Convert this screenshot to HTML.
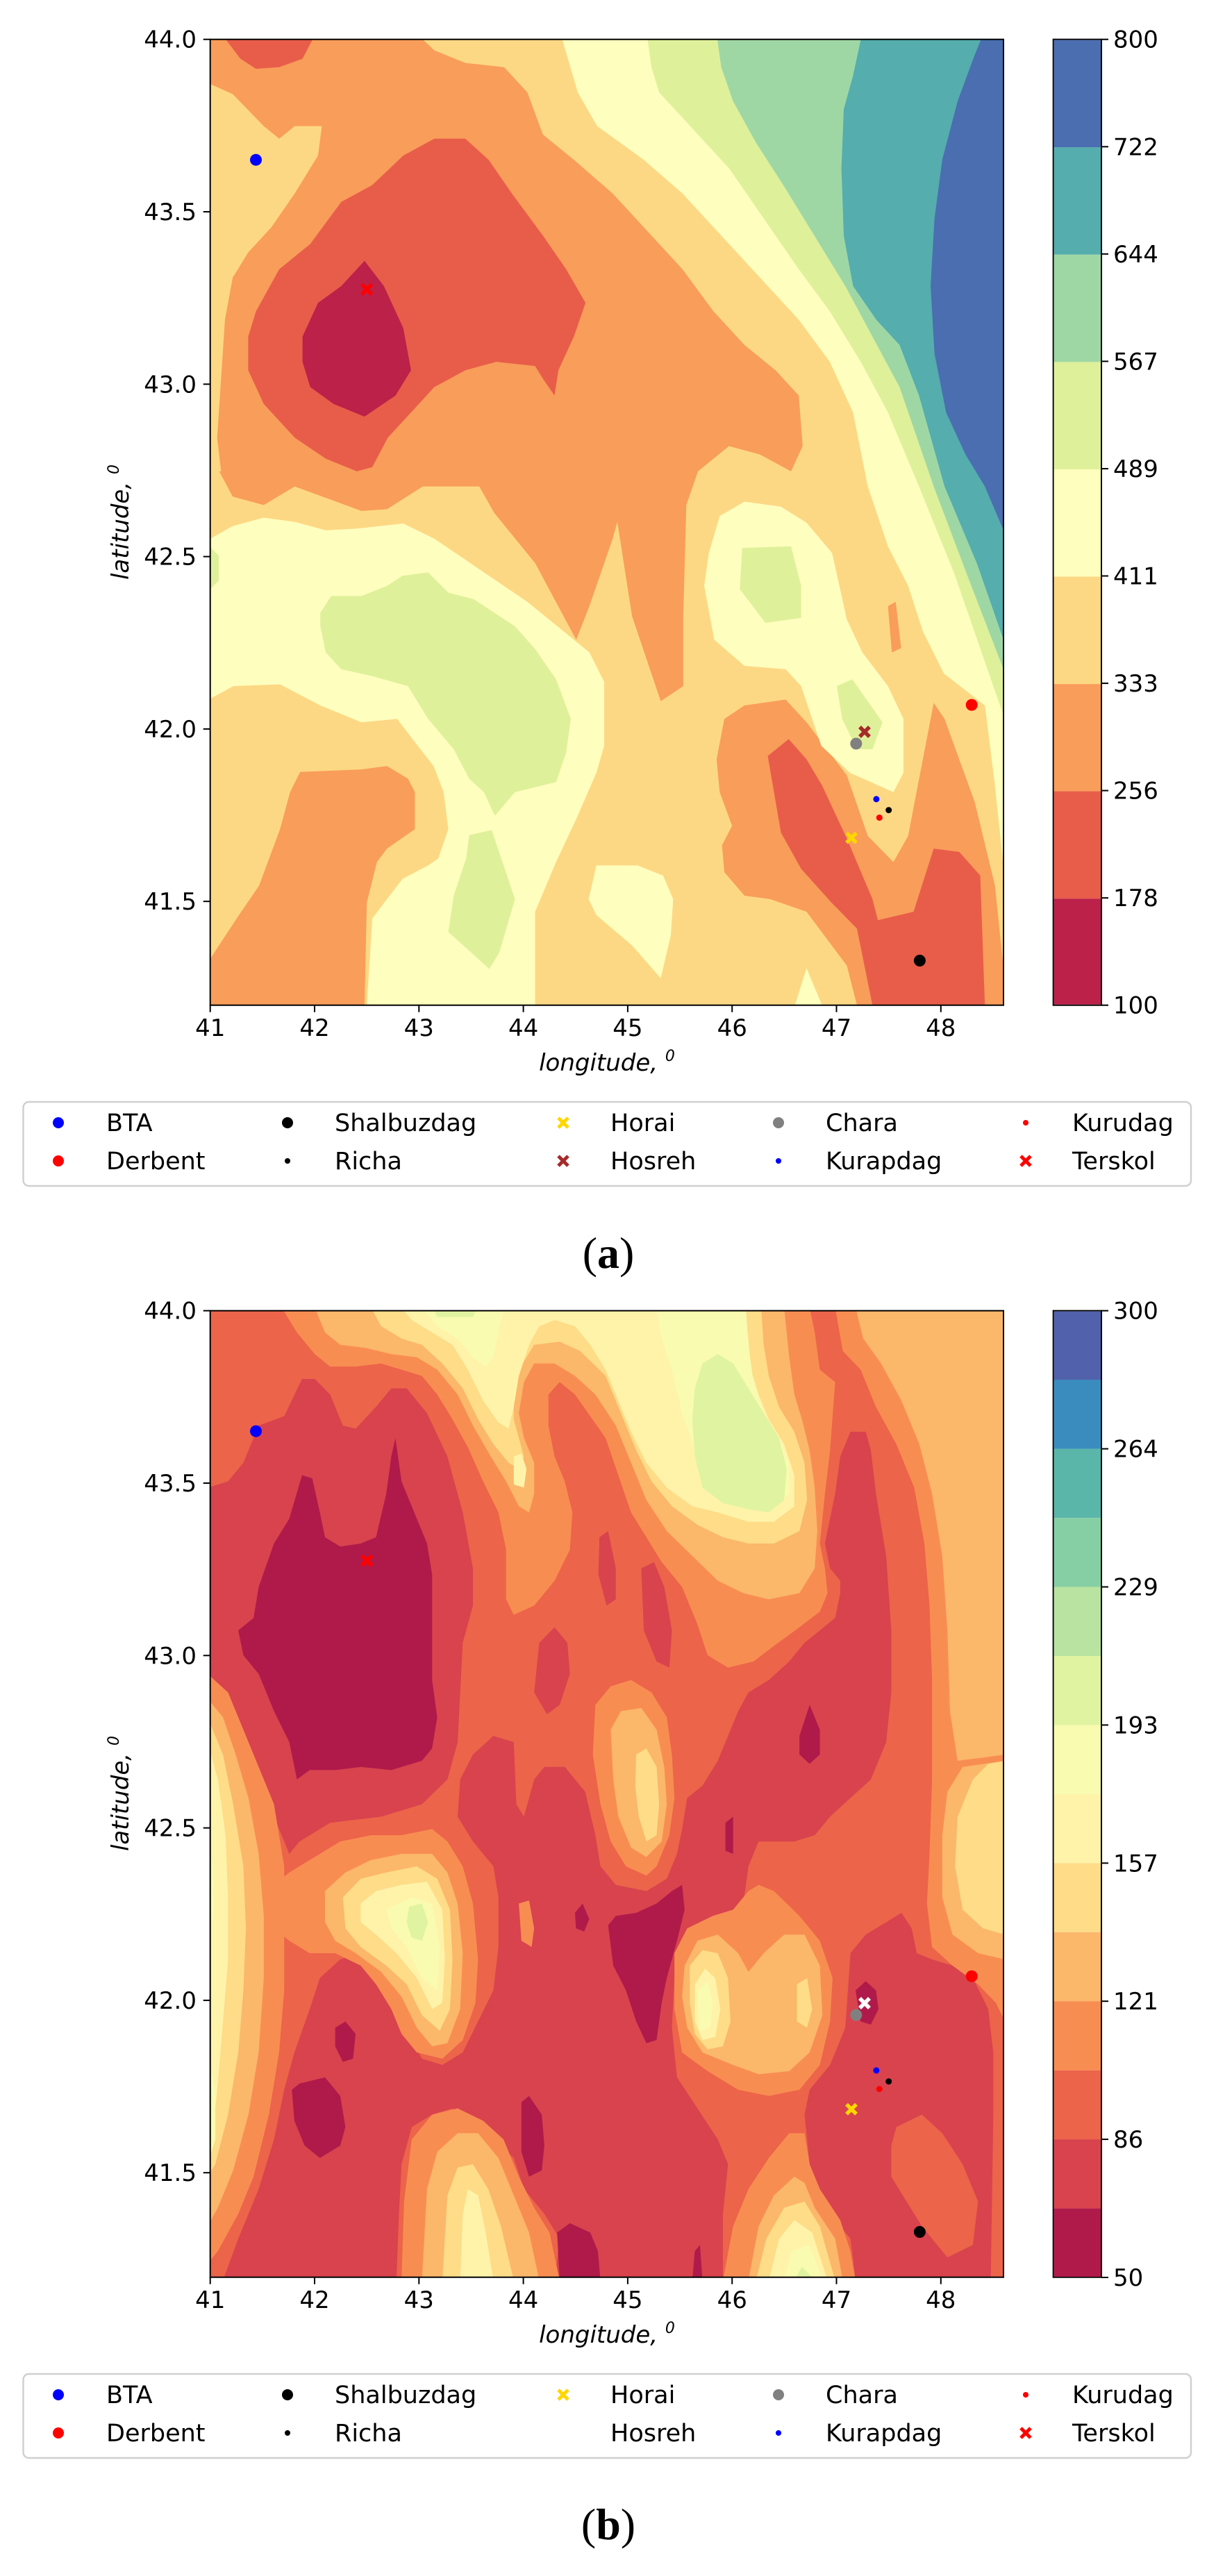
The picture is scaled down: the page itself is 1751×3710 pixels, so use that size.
<!DOCTYPE html>
<html><head><meta charset="utf-8"><style>
html,body{margin:0;padding:0;background:#fff;}
svg{display:block;}
text{font-family:"DejaVu Sans","Liberation Sans",sans-serif;fill:#000;}
</style></head><body>
<svg width="1751" height="3710" viewBox="0 0 1751 3710" xmlns="http://www.w3.org/2000/svg">
<!-- ============ PLOT A ============ -->
<svg x="302.7" y="56.7" width="1142.3" height="1391" viewBox="271 47 1023 1147" preserveAspectRatio="none">
<rect x="271" y="47" width="1023" height="1147" fill="#fdd884"/>
<g fill="#f99d5a">
<polygon points="271,47 545,47 560,60 600,75 650,80 680,110 700,160 740,190 790,230 840,280 880,320 920,370 960,410 1000,440 1030,470 1035,530 1020,560 980,540 940,530 900,560 885,600 881,732 881,815 852,833 815,732 796,620 790,640 760,720 743,760 690,669 637,609 618,578 545,578 499,605 466,607 380,578 340,600 300,590 271,540"/>
<polygon points="271,1139 288,1115 308,1087 334,1052 361,985 374,941 387,917 466,914 499,910 526,925 535,941 535,985 499,1008 486,1024 473,1072 470,1194 271,1194"/>
<polygon points="934,854 960,838 1013,831 1040,858 1092,921 1119,993 1152,1024 1171,993 1204,835 1218,854 1257,953 1283,1052 1294,1150 1294,1194 1105,1194 1092,1147 1040,1083 993,1068 960,1064 934,1036 931,1004 944,981 928,941 924,902"/>
<polygon points="1145,720 1155,715 1162,770 1150,775"/>
</g>
<polygon fill="#fdd884" points="271,100 300,112 340,150 360,165 380,150 415,150 410,185 380,230 350,270 320,300 300,330 290,380 285,450 280,520 285,560 271,560"/>
<g fill="#e85d4a">
<polygon points="291,47 403,47 390,70 360,80 330,82 310,70"/>
<polygon points="330,370 360,320 400,290 440,240 480,220 520,185 560,165 600,165 630,190 660,230 700,280 730,320 755,360 740,400 720,440 715,470 700,450 690,435 640,430 600,440 560,460 530,490 500,520 480,555 460,560 420,545 380,520 340,480 320,440 320,400"/>
<polygon points="990,898 1017,878 1040,902 1060,933 1092,996 1125,1068 1132,1093 1178,1083 1204,1008 1237,1012 1264,1040 1270,1194 1125,1194 1105,1103 1072,1072 1033,1032 1007,989"/>
</g>
<polygon fill="#bc2149" points="390,400 410,360 440,340 470,310 495,340 520,390 530,440 510,470 470,495 430,480 400,460 390,430"/>
<g fill="#fefebe">
<polygon points="725,47 1294,47 1294,1030 1283,933 1270,838 1217,800 1190,750 1171,696 1145,649 1119,578 1100,490 1070,430 1030,380 980,330 930,280 880,230 830,190 770,150 745,110"/>
<polygon points="928,613 960,596 1007,602 1040,621 1073,657 1092,736 1112,775 1145,815 1165,854 1165,918 1152,941 1096,918 1059,886 1033,815 1013,795 960,791 921,760 908,696 914,657"/>
<polygon points="271,640 300,625 340,615 380,620 420,630 460,628 520,622 560,640 600,665 640,690 680,715 720,745 760,775 779,810 779,886 769,918 743,973 717,1024 690,1083 690,1194 473,1194 480,1091 499,1068 519,1044 552,1028 565,1020 578,985 572,941 559,910 532,878 512,854 466,858 413,838 361,813 301,815 271,830"/>
<polygon points="769,1028 822,1028 855,1040 868,1068 865,1111 852,1162 815,1123 769,1087 759,1068"/>
<polygon points="1040,1150 1060,1194 1025,1194"/>
</g>
<g fill="#dff09a">
<polygon points="835,47 1294,47 1294,850 1230,680 1185,578 1145,490 1110,430 1070,370 1030,320 985,260 940,200 890,150 850,110 840,80"/>
<polygon points="413,728 427,708 466,708 499,696 519,684 552,680 578,704 611,712 664,744 690,771 717,807 736,854 730,894 717,929 664,941 638,969 624,941 605,925 585,890 552,854 526,815 479,803 440,795 420,775 413,744"/>
<polygon points="605,992 634,986 664,1068 644,1131 631,1151 578,1107 585,1064 601,1020"/>
<polygon points="957,651 1020,649 1033,696 1033,734 987,740 954,700"/>
<polygon points="1079,815 1099,807 1138,858 1125,890 1105,890 1086,854"/>
<polygon points="271,650 282,660 282,690 271,700"/>
</g>
<polygon fill="#9fd7a4" points="925,47 1294,47 1294,795 1250,690 1204,578 1160,460 1125,400 1090,340 1050,280 1010,220 975,170 945,120 930,80"/>
<polygon fill="#55adad" points="1110,47 1294,47 1294,760 1260,670 1218,578 1185,470 1160,410 1130,380 1100,340 1088,280 1085,200 1088,130 1100,90"/>
<polygon fill="#4a6eb0" points="1265,47 1294,47 1294,630 1270,578 1245,540 1220,490 1205,420 1200,340 1205,260 1215,190 1235,120 1255,70"/>
</svg>

<!-- ============ PLOT B ============ -->
<svg x="302.7" y="1887.7" width="1142.3" height="1392" viewBox="5 5 1555 1557" preserveAspectRatio="none">
<rect x="0" y="0" width="1570" height="1570" fill="#ec6449"/>
<g fill="#d8434e">
<polygon points="0,290 40,280 70,250 100,190 150,175 185,115 210,115 240,140 265,190 290,195 330,160 360,130 390,130 430,170 470,240 500,330 520,420 520,480 500,540 495,620 490,700 470,760 420,800 340,820 240,830 180,860 160,880 150,860 130,820 100,770 70,700 40,650 10,610 0,600"/>
<polygon points="30,1567 60,1500 100,1420 130,1340 150,1260 170,1200 200,1130 220,1080 260,1050 300,1040 340,1060 370,1090 390,1140 400,1180 420,1210 460,1220 500,1200 530,1150 560,1100 570,1030 570,950 560,900 520,860 490,820 495,760 520,720 560,690 600,700 605,800 620,820 640,760 660,740 700,740 740,780 760,850 770,900 800,930 860,940 900,920 920,880 930,840 940,790 970,770 1000,730 1020,690 1040,650 1060,620 1100,600 1140,570 1170,540 1200,520 1230,500 1240,460 1240,440 1220,420 1210,380 1230,300 1240,240 1260,200 1290,200 1300,230 1310,300 1330,400 1340,520 1340,620 1330,700 1300,760 1260,790 1220,820 1190,850 1150,860 1080,860 1060,900 1050,960 1000,1000 960,1010 930,1030 915,1080 910,1160 920,1240 960,1290 1000,1340 1020,1380 1010,1460 1010,1567 680,1567 690,1500 660,1460 620,1420 600,1370 560,1340 520,1310 480,1290 440,1300 400,1320 380,1380 375,1460 370,1567"/>
<polygon points="1170,1300 1180,1260 1220,1220 1250,1160 1255,1100 1260,1040 1290,1010 1330,990 1360,975 1380,1000 1390,1040 1420,1050 1460,1060 1500,1080 1530,1130 1540,1200 1540,1300 1535,1567 1270,1567 1260,1500 1230,1470 1200,1420 1180,1380"/>
<polygon points="650,540 680,515 705,540 710,590 690,640 665,655 640,620"/>
<polygon points="768,370 785,360 800,420 800,470 782,480 766,430"/>
<polygon points="850,420 875,410 895,450 910,520 905,580 880,570 855,520"/>
</g>
<polygon fill="#ec6449" points="1350,1320 1400,1300 1440,1330 1480,1380 1510,1440 1500,1510 1450,1530 1400,1480 1370,1440 1340,1400 1340,1350"/>
<g fill="#f88d52">
<polygon points="145,0 175,40 210,75 240,95 290,95 340,90 380,100 420,110 450,140 480,180 510,225 540,280 570,330 585,390 585,470 600,495 640,480 680,440 710,390 715,330 700,280 680,240 668,190 668,140 690,120 720,140 750,175 780,210 805,270 830,330 860,370 890,410 930,450 960,510 980,560 1020,580 1070,570 1110,545 1160,515 1200,490 1215,460 1210,420 1200,380 1210,300 1220,230 1230,120 1200,100 1190,40 1180,0"/>
<polygon points="1230,0 1245,70 1280,100 1310,160 1350,220 1385,290 1405,380 1415,480 1420,600 1420,760 1415,880 1410,960 1420,1030 1460,1060 1510,1090 1545,1120 1563,1150 1563,0"/>
<polygon points="760,640 790,610 830,600 870,620 900,660 910,720 915,790 905,850 880,900 860,915 820,900 790,860 770,800 755,720"/>
<polygon points="130,930 160,910 220,880 260,860 320,850 380,850 440,840 470,860 500,900 520,960 530,1050 525,1120 500,1180 460,1210 410,1200 380,1170 360,1130 330,1090 300,1060 250,1040 200,1040 160,1020 130,1000"/>
<polygon points="915,1040 940,1000 990,980 1030,970 1060,940 1080,930 1110,940 1160,980 1200,1020 1225,1080 1220,1150 1200,1220 1160,1260 1100,1270 1040,1260 980,1230 930,1200 915,1130"/>
<polygon points="380,1567 385,1440 400,1340 440,1300 490,1290 540,1310 580,1340 610,1400 640,1450 670,1490 690,1567"/>
<polygon points="1010,1567 1030,1480 1060,1420 1100,1370 1140,1330 1170,1330 1180,1380 1200,1420 1240,1470 1260,1520 1270,1567"/>
<polygon points="0,590 40,620 70,680 100,740 130,800 150,900 150,1000 150,1100 140,1200 120,1300 90,1400 60,1460 20,1520 0,1540"/>
<polygon points="610,960 630,955 640,1000 635,1030 615,1020"/>
</g>
<g fill="#fbb76a">
<polygon points="210,0 230,40 260,60 310,65 360,75 410,80 450,100 490,140 520,190 555,240 585,280 610,320 630,330 640,300 640,250 620,210 610,170 620,120 640,90 680,90 720,110 760,140 800,190 830,250 860,310 900,360 950,400 1000,440 1050,460 1100,470 1160,460 1190,420 1195,360 1190,290 1180,230 1165,180 1150,140 1140,80 1130,0"/>
<polygon points="1270,0 1285,50 1320,90 1360,150 1395,220 1420,300 1440,400 1450,520 1455,650 1470,730 1520,725 1563,720 1563,0"/>
<polygon points="1440,850 1450,780 1480,740 1563,730 1563,1050 1510,1040 1460,1010 1440,950"/>
<polygon points="790,680 810,650 850,645 880,680 895,740 900,800 890,860 860,885 830,870 805,820 795,760"/>
<polygon points="230,940 270,910 320,890 380,880 440,880 470,910 490,960 500,1040 495,1130 470,1185 440,1190 410,1160 380,1110 340,1070 290,1040 250,1020 230,990"/>
<polygon points="935,1060 960,1020 1000,1010 1040,1040 1060,1070 1090,1040 1130,1010 1170,1010 1200,1060 1205,1140 1180,1200 1140,1230 1080,1235 1030,1220 970,1200 940,1160 930,1110"/>
<polygon points="420,1567 430,1420 450,1360 490,1330 530,1330 570,1370 600,1430 630,1490 650,1567"/>
<polygon points="1060,1567 1080,1480 1110,1430 1150,1400 1170,1410 1190,1450 1230,1500 1245,1567"/>
<polygon points="0,630 30,660 55,720 80,790 100,880 110,980 110,1080 100,1200 80,1300 50,1390 20,1450 0,1480"/>
</g>
<g fill="#fedc88">
<polygon points="320,0 340,30 380,50 420,60 460,90 500,130 530,180 560,220 590,250 610,260 620,240 610,210 600,180 600,140 610,100 640,60 690,55 730,70 780,110 810,170 840,230 870,280 910,320 960,350 1010,370 1060,380 1110,380 1160,360 1175,310 1170,250 1150,200 1120,160 1100,110 1090,60 1085,0"/>
<polygon points="1465,900 1470,820 1500,760 1530,735 1563,730 1563,1010 1520,1000 1480,970"/>
<polygon points="840,720 860,710 880,740 885,800 880,850 860,860 845,820 838,770"/>
<polygon points="265,950 300,920 350,910 410,900 450,920 475,970 480,1050 475,1130 455,1165 420,1140 390,1090 350,1060 300,1030 270,1000"/>
<polygon points="945,1060 970,1035 1000,1040 1020,1080 1025,1150 1010,1190 980,1195 955,1170 945,1120"/>
<polygon points="1155,1090 1175,1080 1185,1130 1175,1160 1155,1150"/>
<polygon points="460,1567 470,1430 490,1385 520,1380 550,1420 575,1480 600,1567"/>
<polygon points="1075,1567 1095,1500 1130,1450 1170,1440 1200,1480 1230,1567"/>
<polygon points="0,660 30,720 50,800 70,900 75,1000 70,1100 60,1200 40,1300 15,1380 0,1400"/>
</g>
<g fill="#fff3aa">
<polygon points="380,0 400,20 440,40 480,60 510,100 540,150 570,185 590,195 600,160 610,110 630,60 650,30 680,20 720,30 750,60 780,100 800,140 830,200 860,250 900,290 950,320 1000,330 1060,345 1110,345 1150,320 1150,270 1130,220 1100,180 1080,140 1065,100 1060,50 1050,0"/>
<polygon points="600,240 615,235 625,260 620,290 600,285"/>
<polygon points="300,960 330,940 380,930 430,925 460,970 465,1050 460,1120 440,1130 410,1080 370,1040 330,1010 300,990"/>
<polygon points="955,1090 975,1065 995,1080 1005,1130 995,1175 970,1180 955,1150"/>
<polygon points="495,1567 500,1460 510,1420 530,1430 545,1490 560,1567"/>
<polygon points="1100,1567 1120,1500 1150,1470 1185,1490 1215,1567"/>
<polygon points="0,700 20,760 35,850 40,950 40,1050 30,1150 20,1250 10,1330 0,1340"/>
</g>
<g fill="#f8fbb0">
<polygon points="420,0 450,30 490,50 520,80 545,95 560,80 570,40 580,0"/>
<polygon points="880,0 890,50 910,100 930,170 960,240 1000,290 1060,310 1110,320 1140,300 1140,250 1120,210 1090,170 1070,120 1060,60 1055,0"/>
<polygon points="350,970 400,950 440,960 455,1030 450,1100 420,1080 390,1030 360,1000"/>
<polygon points="960,1100 980,1085 990,1120 985,1160 965,1165"/>
<polygon points="1130,1567 1145,1520 1180,1510 1205,1567"/>
<polygon points="0,840 10,900 12,980 0,1000"/>
<polygon points="0,1200 15,1260 15,1340 0,1380"/>
</g>
<g fill="#e0f3a0">
<polygon points="955,130 970,90 1000,75 1030,90 1060,130 1090,170 1120,210 1135,260 1130,310 1100,330 1060,325 1010,315 970,290 955,240 950,180"/>
<polygon points="440,0 530,0 520,15 450,15"/>
<polygon points="395,965 420,960 432,990 420,1020 400,1015 390,990"/>
<polygon points="1150,1567 1165,1545 1190,1567"/>
</g>
<g fill="#b01a4a">
<polygon points="60,520 90,500 100,450 130,380 160,340 185,270 205,275 220,330 230,370 260,385 300,380 330,370 350,300 360,240 368,210 380,280 400,320 430,380 440,430 440,500 440,600 450,660 440,710 420,730 360,745 300,740 250,745 200,745 175,760 160,700 130,650 100,590 70,560"/>
<polygon points="1160,690 1180,640 1200,680 1200,720 1180,735 1160,720"/>
<polygon points="1015,830 1030,820 1030,880 1015,875"/>
<polygon points="720,975 735,960 748,985 738,1005 722,1000"/>
<polygon points="785,995 800,980 840,975 880,960 910,940 930,930 935,970 920,1020 900,1080 890,1120 880,1180 860,1185 840,1150 820,1100 795,1060"/>
<polygon points="250,1160 270,1150 290,1170 285,1210 265,1215 250,1190"/>
<polygon points="165,1260 180,1250 230,1240 260,1270 270,1320 260,1350 220,1370 190,1350 170,1310"/>
<polygon points="615,1280 630,1270 655,1300 660,1350 655,1390 630,1400 615,1360"/>
<polygon points="685,1490 710,1475 750,1490 765,1520 770,1567 690,1567"/>
<polygon points="955,1520 965,1510 970,1567 950,1567"/>
<polygon points="1270,1100 1290,1085 1310,1100 1315,1130 1300,1155 1280,1150"/>
</g>
</svg>

<!-- frames -->
<g fill="none" stroke="#000" stroke-width="2">
<rect x="302.7" y="56.7" width="1142.3" height="1391"/>
<rect x="1516.7" y="56.7" width="69.3" height="1391"/>
<rect x="302.7" y="1887.7" width="1142.3" height="1392"/>
<rect x="1516.7" y="1887.7" width="69.3" height="1392"/>
</g>

<!-- colorbar A -->
<g stroke="none">
<rect x="1517.7" y="57.7" width="67.3" height="154.6" fill="#4a6eb0"/>
<rect x="1517.7" y="212.2" width="67.3" height="154.6" fill="#55adad"/>
<rect x="1517.7" y="366.8" width="67.3" height="154.6" fill="#9fd7a4"/>
<rect x="1517.7" y="521.4" width="67.3" height="154.6" fill="#dff09a"/>
<rect x="1517.7" y="675.9" width="67.3" height="154.6" fill="#fefebe"/>
<rect x="1517.7" y="830.5" width="67.3" height="154.6" fill="#fdd884"/>
<rect x="1517.7" y="985.1" width="67.3" height="154.6" fill="#f99d5a"/>
<rect x="1517.7" y="1139.6" width="67.3" height="154.6" fill="#e85d4a"/>
<rect x="1517.7" y="1294.2" width="67.3" height="152.5" fill="#bc2149"/>
</g>
<!-- colorbar B -->
<g stroke="none">
<rect x="1517.7" y="1888.7" width="67.3" height="99.5" fill="#5161ab"/>
<rect x="1517.7" y="1987.2" width="67.3" height="99.5" fill="#3a8cbf"/>
<rect x="1517.7" y="2086.6" width="67.3" height="99.5" fill="#5bb6aa"/>
<rect x="1517.7" y="2186.1" width="67.3" height="99.5" fill="#86cfa5"/>
<rect x="1517.7" y="2285.5" width="67.3" height="99.5" fill="#b9e3a0"/>
<rect x="1517.7" y="2385.0" width="67.3" height="99.5" fill="#e0f3a0"/>
<rect x="1517.7" y="2484.4" width="67.3" height="99.5" fill="#f8fbb0"/>
<rect x="1517.7" y="2583.9" width="67.3" height="99.5" fill="#fff3aa"/>
<rect x="1517.7" y="2683.3" width="67.3" height="99.5" fill="#fedc88"/>
<rect x="1517.7" y="2782.8" width="67.3" height="99.5" fill="#fbb76a"/>
<rect x="1517.7" y="2882.2" width="67.3" height="99.5" fill="#f88d52"/>
<rect x="1517.7" y="2981.7" width="67.3" height="99.5" fill="#ec6449"/>
<rect x="1517.7" y="3081.1" width="67.3" height="99.5" fill="#d8434e"/>
<rect x="1517.7" y="3180.6" width="67.3" height="98.4" fill="#b01a4a"/>
</g>

<!-- ticks -->
<g stroke="#000" stroke-width="2">
<!-- A x ticks -->
<line x1="302.7" y1="1447.7" x2="302.7" y2="1457.7"/><line x1="453" y1="1447.7" x2="453" y2="1457.7"/><line x1="603.3" y1="1447.7" x2="603.3" y2="1457.7"/><line x1="753.6" y1="1447.7" x2="753.6" y2="1457.7"/><line x1="903.9" y1="1447.7" x2="903.9" y2="1457.7"/><line x1="1054.2" y1="1447.7" x2="1054.2" y2="1457.7"/><line x1="1204.5" y1="1447.7" x2="1204.5" y2="1457.7"/><line x1="1354.8" y1="1447.7" x2="1354.8" y2="1457.7"/>
<!-- A y ticks -->
<line x1="292.7" y1="56.7" x2="302.7" y2="56.7"/><line x1="292.7" y1="305" x2="302.7" y2="305"/><line x1="292.7" y1="553.3" x2="302.7" y2="553.3"/><line x1="292.7" y1="801.6" x2="302.7" y2="801.6"/><line x1="292.7" y1="1049.9" x2="302.7" y2="1049.9"/><line x1="292.7" y1="1298.2" x2="302.7" y2="1298.2"/>
<!-- B x ticks -->
<line x1="302.7" y1="3279.7" x2="302.7" y2="3289.7"/><line x1="453" y1="3279.7" x2="453" y2="3289.7"/><line x1="603.3" y1="3279.7" x2="603.3" y2="3289.7"/><line x1="753.6" y1="3279.7" x2="753.6" y2="3289.7"/><line x1="903.9" y1="3279.7" x2="903.9" y2="3289.7"/><line x1="1054.2" y1="3279.7" x2="1054.2" y2="3289.7"/><line x1="1204.5" y1="3279.7" x2="1204.5" y2="3289.7"/><line x1="1354.8" y1="3279.7" x2="1354.8" y2="3289.7"/>
<!-- B y ticks -->
<line x1="292.7" y1="1887.7" x2="302.7" y2="1887.7"/><line x1="292.7" y1="2136" x2="302.7" y2="2136"/><line x1="292.7" y1="2384.3" x2="302.7" y2="2384.3"/><line x1="292.7" y1="2632.6" x2="302.7" y2="2632.6"/><line x1="292.7" y1="2880.9" x2="302.7" y2="2880.9"/><line x1="292.7" y1="3129.2" x2="302.7" y2="3129.2"/>
<!-- CB A ticks -->
<line x1="1586" y1="56.7" x2="1596" y2="56.7"/><line x1="1586" y1="211.3" x2="1596" y2="211.3"/><line x1="1586" y1="365.8" x2="1596" y2="365.8"/><line x1="1586" y1="520.4" x2="1596" y2="520.4"/><line x1="1586" y1="675" x2="1596" y2="675"/><line x1="1586" y1="829.5" x2="1596" y2="829.5"/><line x1="1586" y1="984.1" x2="1596" y2="984.1"/><line x1="1586" y1="1138.6" x2="1596" y2="1138.6"/><line x1="1586" y1="1293.2" x2="1596" y2="1293.2"/><line x1="1586" y1="1447.7" x2="1596" y2="1447.7"/>
<!-- CB B ticks -->
<line x1="1586" y1="1887.7" x2="1596" y2="1887.7"/><line x1="1586" y1="2086.6" x2="1596" y2="2086.6"/><line x1="1586" y1="2285.5" x2="1596" y2="2285.5"/><line x1="1586" y1="2484.4" x2="1596" y2="2484.4"/><line x1="1586" y1="2683.3" x2="1596" y2="2683.3"/><line x1="1586" y1="2882.2" x2="1596" y2="2882.2"/><line x1="1586" y1="3081.1" x2="1596" y2="3081.1"/><line x1="1586" y1="3280" x2="1596" y2="3280"/>
</g>

<!-- tick labels -->
<g font-size="34" text-anchor="middle">
<text x="302.7" y="1492">41</text><text x="453" y="1492">42</text><text x="603.3" y="1492">43</text><text x="753.6" y="1492">44</text><text x="903.9" y="1492">45</text><text x="1054.2" y="1492">46</text><text x="1204.5" y="1492">47</text><text x="1354.8" y="1492">48</text>
<text x="302.7" y="3324">41</text><text x="453" y="3324">42</text><text x="603.3" y="3324">43</text><text x="753.6" y="3324">44</text><text x="903.9" y="3324">45</text><text x="1054.2" y="3324">46</text><text x="1204.5" y="3324">47</text><text x="1354.8" y="3324">48</text>
</g>
<g font-size="34" text-anchor="end">
<text x="283" y="68.7">44.0</text><text x="283" y="317">43.5</text><text x="283" y="565.3">43.0</text><text x="283" y="813.6">42.5</text><text x="283" y="1061.9">42.0</text><text x="283" y="1310.2">41.5</text>
<text x="283" y="1899.7">44.0</text><text x="283" y="2148">43.5</text><text x="283" y="2396.3">43.0</text><text x="283" y="2644.6">42.5</text><text x="283" y="2892.9">42.0</text><text x="283" y="3141.2">41.5</text>
</g>
<g font-size="34" text-anchor="start">
<text x="1603" y="68.7">800</text><text x="1603" y="223.3">722</text><text x="1603" y="377.8">644</text><text x="1603" y="532.4">567</text><text x="1603" y="687">489</text><text x="1603" y="841.5">411</text><text x="1603" y="996.1">333</text><text x="1603" y="1150.6">256</text><text x="1603" y="1305.2">178</text><text x="1603" y="1459.7">100</text>
<text x="1603" y="1899.7">300</text><text x="1603" y="2098.6">264</text><text x="1603" y="2297.5">229</text><text x="1603" y="2496.4">193</text><text x="1603" y="2695.3">157</text><text x="1603" y="2894.2">121</text><text x="1603" y="3093.1">86</text><text x="1603" y="3292">50</text>
</g>
<!-- axis labels -->
<g font-size="34" font-style="italic">
<text x="874" y="1542" text-anchor="middle">longitude, <tspan font-size="22" dy="-14">0</tspan></text>
<text x="874" y="3374" text-anchor="middle">longitude, <tspan font-size="22" dy="-14">0</tspan></text>
<text transform="translate(185,752) rotate(-90)" text-anchor="middle">latitude, <tspan font-size="22" dy="-14">0</tspan></text>
<text transform="translate(185,2583) rotate(-90)" text-anchor="middle">latitude, <tspan font-size="22" dy="-14">0</tspan></text>
</g>

<!-- markers A -->
<g>
<circle cx="368.5" cy="230.2" r="8.5" fill="#0000ff"/>
<path d="M521,409.6 L535.4,424 M535.4,409.6 L521,424" stroke="#ff0000" stroke-width="5.5"/>
<circle cx="1399.2" cy="1015.2" r="8.5" fill="#ff0000"/>
<circle cx="1324.4" cy="1383.5" r="8.5" fill="#000"/>
<path d="M1238,1047 L1252,1061 M1252,1047 L1238,1061" stroke="#a52a2a" stroke-width="5.5"/>
<circle cx="1232.8" cy="1071" r="8.5" fill="#808080"/>
<circle cx="1261.9" cy="1150.9" r="4.5" fill="#0000ff"/>
<circle cx="1279.7" cy="1166.7" r="4.5" fill="#000"/>
<circle cx="1266.3" cy="1177.6" r="4.5" fill="#ff0000"/>
<path d="M1219,1199.7 L1233,1213.7 M1233,1199.7 L1219,1213.7" stroke="#ffd700" stroke-width="5.5"/>
</g>
<!-- markers B -->
<g transform="translate(0,1831)">
<circle cx="368.5" cy="230.2" r="8.5" fill="#0000ff"/>
<path d="M521,409.6 L535.4,424 M535.4,409.6 L521,424" stroke="#ff0000" stroke-width="5.5"/>
<circle cx="1399.2" cy="1015.2" r="8.5" fill="#ff0000"/>
<circle cx="1324.4" cy="1383.5" r="8.5" fill="#000"/>
<circle cx="1232.8" cy="1071" r="8.5" fill="#808080"/>
<path d="M1238,1047 L1252,1061 M1252,1047 L1238,1061" stroke="#ffffff" stroke-width="5.5"/>
<circle cx="1261.9" cy="1150.9" r="4.5" fill="#0000ff"/>
<circle cx="1279.7" cy="1166.7" r="4.5" fill="#000"/>
<circle cx="1266.3" cy="1177.6" r="4.5" fill="#ff0000"/>
<path d="M1219,1199.7 L1233,1213.7 M1233,1199.7 L1219,1213.7" stroke="#ffd700" stroke-width="5.5"/>
</g>

<!-- legends -->
<g id="legA">
<rect x="33.5" y="1587" width="1681.5" height="121" rx="8" fill="#fff" stroke="#d0d0d0" stroke-width="2.5"/>
<circle cx="84" cy="1617" r="8" fill="#0000ff"/>
<circle cx="84" cy="1672" r="8" fill="#ff0000"/>
<circle cx="414" cy="1617" r="8" fill="#000"/>
<circle cx="414" cy="1672" r="4" fill="#000"/>
<path d="M804,1610 L818,1624 M818,1610 L804,1624" stroke="#ffd700" stroke-width="5"/>
<path d="M804,1665 L818,1679 M818,1665 L804,1679" stroke="#a52a2a" stroke-width="5"/>
<circle cx="1121" cy="1617" r="8" fill="#808080"/>
<circle cx="1121" cy="1672" r="4" fill="#0000ff"/>
<circle cx="1477" cy="1617" r="4" fill="#ff0000"/>
<path d="M1470,1665 L1484,1679 M1484,1665 L1470,1679" stroke="#ff0000" stroke-width="5"/>
<g font-size="35">
<text x="153" y="1629">BTA</text><text x="153" y="1684">Derbent</text>
<text x="482" y="1629">Shalbuzdag</text><text x="482" y="1684">Richa</text>
<text x="879" y="1629">Horai</text><text x="879" y="1684">Hosreh</text>
<text x="1189" y="1629">Chara</text><text x="1189" y="1684">Kurapdag</text>
<text x="1544" y="1629">Kurudag</text><text x="1544" y="1684">Terskol</text>
</g>
</g>
<g transform="translate(0,1832)">
<rect x="33.5" y="1587" width="1681.5" height="121" rx="8" fill="#fff" stroke="#d0d0d0" stroke-width="2.5"/>
<circle cx="84" cy="1617" r="8" fill="#0000ff"/>
<circle cx="84" cy="1672" r="8" fill="#ff0000"/>
<circle cx="414" cy="1617" r="8" fill="#000"/>
<circle cx="414" cy="1672" r="4" fill="#000"/>
<path d="M804,1610 L818,1624 M818,1610 L804,1624" stroke="#ffd700" stroke-width="5"/>
<circle cx="1121" cy="1617" r="8" fill="#808080"/>
<circle cx="1121" cy="1672" r="4" fill="#0000ff"/>
<circle cx="1477" cy="1617" r="4" fill="#ff0000"/>
<path d="M1470,1665 L1484,1679 M1484,1665 L1470,1679" stroke="#ff0000" stroke-width="5"/>
<g font-size="35">
<text x="153" y="1629">BTA</text><text x="153" y="1684">Derbent</text>
<text x="482" y="1629">Shalbuzdag</text><text x="482" y="1684">Richa</text>
<text x="879" y="1629">Horai</text><text x="879" y="1684">Hosreh</text>
<text x="1189" y="1629">Chara</text><text x="1189" y="1684">Kurapdag</text>
<text x="1544" y="1629">Kurudag</text><text x="1544" y="1684">Terskol</text>
</g>
</g>

<!-- captions -->
<text x="876" y="1826" text-anchor="middle" font-size="64" style="font-family:'Liberation Serif',serif">(<tspan font-weight="bold">a</tspan>)</text>
<text x="876" y="3657" text-anchor="middle" font-size="64" style="font-family:'Liberation Serif',serif">(<tspan font-weight="bold">b</tspan>)</text>
</svg>
</body></html>
